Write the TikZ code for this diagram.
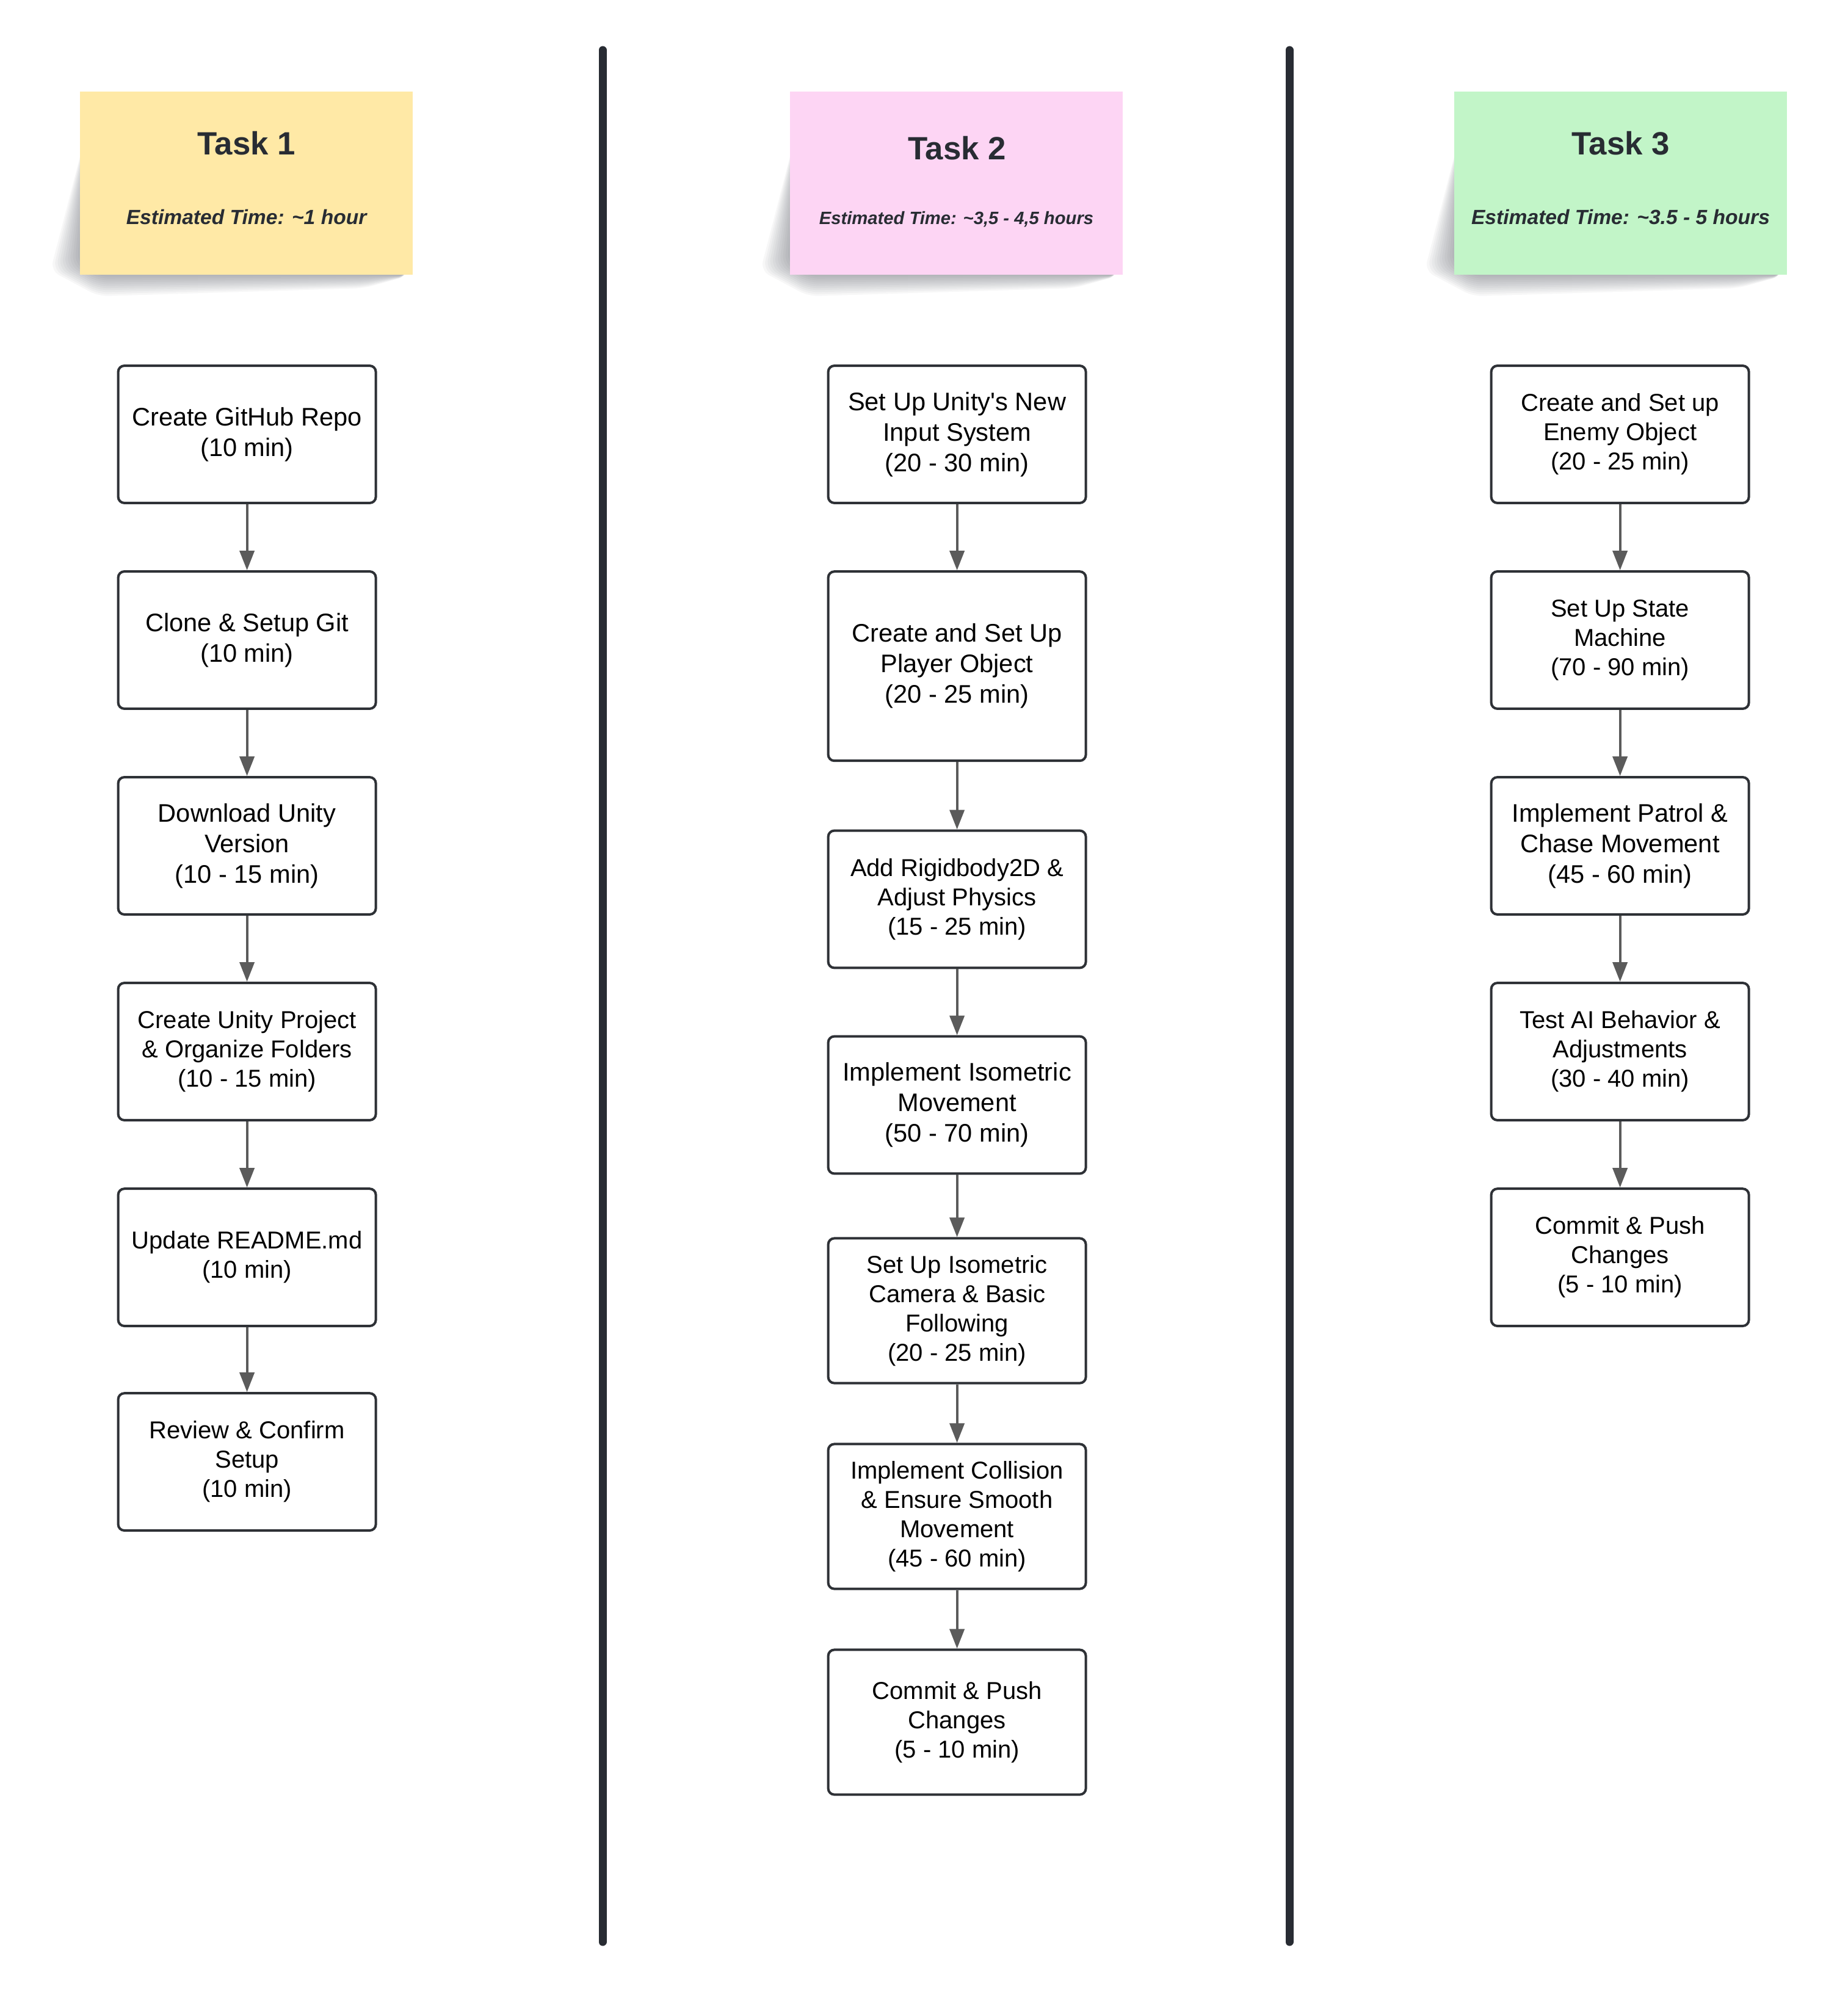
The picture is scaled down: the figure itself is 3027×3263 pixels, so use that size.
\documentclass[tikz,border=0pt]{standalone}
\usepackage{fontspec}
\setmainfont{Liberation Sans}
\usetikzlibrary{arrows.meta}
\definecolor{ink}{HTML}{282C33}
\definecolor{boxline}{HTML}{2E3136}
\definecolor{arrowgray}{HTML}{5B5B5B}
\definecolor{noteyellow}{HTML}{FFE9A6}
\definecolor{notepink}{HTML}{FDD5F4}
\definecolor{notegreen}{HTML}{C2F5C8}
\definecolor{shadowtone}{HTML}{3A3F4A}

% soft shadow under the lower-left part of a sticky note (L, T, R, B in px)
\newcommand\noteshadow[4]{%
  \foreach \e in {44,40,...,4} {
    \fill[shadowtone, opacity=0.04, rounded corners=4pt]
      (#1+12,#2+60) -- (#1-1.1*\e,#4-20+0.3*\e) -- (#1+30,#4+0.8*\e)
      -- (#3-80,#4+0.5*\e) -- (#3-8,#4+2) -- (#3-8,#2+70) -- cycle;
  }}

\begin{document}
\begin{tikzpicture}[x=0.25pt,y=-0.25pt,
  taskbox/.style={draw=boxline, line width=1pt, rounded corners=2.5pt, fill=white,
    minimum width=105.5pt, minimum height=56.2pt, inner sep=0pt, align=center,
    text=black, font=\fontsize{10.4}{12.5}\selectfont},
  smalltext/.style={font=\fontsize{10}{12}\selectfont},
  notebox/.style={minimum width=136.25pt, minimum height=75pt, inner sep=0pt},
  title/.style={anchor=base, text=ink, font=\bfseries\fontsize{13.2}{16}\selectfont},
  estimate/.style={anchor=base, text=ink, font=\bfseries\itshape\fontsize{8.4}{10}\selectfont},
  flow/.style={draw=arrowgray, line width=1pt, -{Triangle[length=8pt,width=6pt]}},
  divider/.style={draw=ink, line width=3.25pt, line cap=round}]
\useasboundingbox (0,0) rectangle (3027,3263);
\fill[white] (0,0) rectangle (3027,3263);

% column dividers
\coordinate (d1t) at (987,82);
\coordinate (d1b) at (987,3181);
\coordinate (d2t) at (2112,82);
\coordinate (d2b) at (2112,3181);
\draw[divider] (d1t) -- (d1b);
\draw[divider] (d2t) -- (d2b);

% sticky notes
\noteshadow{131.1}{150}{676.1}{450}
\noteshadow{1294}{150}{1839}{450}
\noteshadow{2382}{150}{2927}{450}
\node[notebox, fill=noteyellow] (n1) at (403.6,300) {};
\node[notebox, fill=notepink] (n2) at (1566.5,300) {};
\node[notebox, fill=notegreen] (n3) at (2654.5,300) {};

\node[title] (t1) at (403.6,254) {Task 1};
\node[title] (t2) at (1567.6,262) {Task 2};
\node[title] (t3) at (2654.5,254) {Task 3};
\node[estimate] (e1) at (403.6,368) {Estimated Time: \textasciitilde1 hour};
\node[estimate, font=\bfseries\itshape\fontsize{7.3}{9}\selectfont] (e2) at (1566.5,368) {Estimated Time: \textasciitilde3,5 - 4,5 hours};
\node[estimate] (e3) at (2654.5,368) {Estimated Time: \textasciitilde3.5 - 5 hours};

% Task 1 steps
\node[taskbox] (a1) at (404.6,711.5) {Create GitHub Repo\\(10 min)};
\node[taskbox] (a2) at (404.6,1048.5) {Clone \& Setup Git\\(10 min)};
\node[taskbox] (a3) at (404.6,1385.5) {Download Unity\\Version\\(10 - 15 min)};
\node[taskbox, smalltext] (a4) at (404.6,1722.5) {Create Unity Project\\\& Organize Folders\\(10 - 15 min)};
\node[taskbox, smalltext] (a5) at (404.6,2059.6) {Update README.md\\(10 min)};
\node[taskbox, smalltext] (a6) at (404.6,2394.6) {Review \& Confirm\\Setup\\(10 min)};

% Task 2 steps
\node[taskbox] (b1) at (1567.6,711.5) {Set Up Unity\textquotesingle s New\\Input System\\(20 - 30 min)};
\node[taskbox, minimum height=77.5pt] (b2) at (1567.6,1091.2) {Create and Set Up\\Player Object\\(20 - 25 min)};
\node[taskbox, smalltext] (b3) at (1567.6,1473.0) {Add Rigidbody2D \&\\Adjust Physics\\(15 - 25 min)};
\node[taskbox] (b4) at (1567.6,1810.0) {Implement Isometric\\Movement\\(50 - 70 min)};
\node[taskbox, smalltext, minimum height=59.3pt] (b5) at (1567.6,2147.0) {Set Up Isometric\\Camera \& Basic\\Following\\(20 - 25 min)};
\node[taskbox, smalltext, minimum height=59.3pt] (b6) at (1567.6,2484.0) {Implement Collision\\\& Ensure Smooth\\Movement\\(45 - 60 min)};
\node[taskbox, smalltext, minimum height=59.3pt] (b7) at (1567.6,2821.0) {Commit \& Push\\Changes\\(5 - 10 min)};

% Task 3 steps
\node[taskbox, smalltext] (c1) at (2653.6,711.5) {Create and Set up\\Enemy Object\\(20 - 25 min)};
\node[taskbox, smalltext] (c2) at (2653.6,1048.5) {Set Up State\\Machine\\(70 - 90 min)};
\node[taskbox] (c3) at (2653.6,1385.5) {Implement Patrol \&\\Chase Movement\\(45 - 60 min)};
\node[taskbox, smalltext] (c4) at (2653.6,1722.5) {Test AI Behavior \&\\Adjustments\\(30 - 40 min)};
\node[taskbox, smalltext] (c5) at (2653.6,2059.6) {Commit \& Push\\Changes\\(5 - 10 min)};

% connectors
\foreach \u/\v in {a1/a2,a2/a3,a3/a4,a4/a5,a5/a6,
                   b1/b2,b2/b3,b3/b4,b4/b5,b5/b6,b6/b7,
                   c1/c2,c2/c3,c3/c4,c4/c5}
  \draw[flow] (\u.south) -- (\v.north);
\end{tikzpicture}
\end{document}
